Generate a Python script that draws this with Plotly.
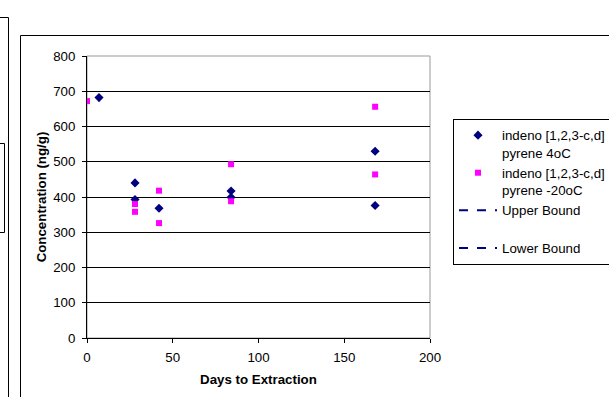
import plotly.graph_objects as go

# ---- data ----
days_4c = [7, 28, 28, 42, 84, 84, 168, 168]
conc_4c = [682, 440, 393, 368, 417, 399, 530, 376]
days_m20c = [0, 28, 28, 42, 42, 84, 84, 168, 168]
conc_m20c = [672, 380, 358, 418, 326, 493, 388, 656, 464]
upper_x, upper_y = [None], [None]
lower_x, lower_y = [None], [None]
x_ticks = [0, 50, 100, 150, 200]
y_ticks = [0, 100, 200, 300, 400, 500, 600, 700, 800]

W, H = 609, 397
L, R, T, B = 87, 430, 56, 338

def px(x):
    return (x - L) / (R - L)

def py(y):
    return (B - y) / (B - T)

FS = 13.3
font = dict(family="Liberation Sans, Arial, sans-serif", size=FS, color="black")

fig = go.Figure()
fig.add_trace(go.Scatter(x=days_4c, y=conc_4c, mode="markers",
                         name="indeno [1,2,3-c,d]<br>pyrene 4oC", legendgroup="a",
                         marker=dict(symbol="diamond", size=7, color="#000080")))
fig.add_trace(go.Scatter(x=days_m20c, y=conc_m20c, mode="markers",
                         name="indeno [1,2,3-c,d]<br>pyrene -20oC", legendgroup="b",
                         marker=dict(symbol="square", size=6, color="#FF00FF")))
fig.add_trace(go.Scatter(x=upper_x, y=upper_y, mode="lines", name="Upper Bound<br> ",
                         legendgroup="c", line=dict(color="#000080", dash="dash", width=2)))
fig.add_trace(go.Scatter(x=lower_x, y=lower_y, mode="lines", name="Lower Bound",
                         legendgroup="d", line=dict(color="#000080", dash="dash", width=2)))

def seg(x0, y0, x1, y1):
    return dict(type="line", xref="paper", yref="paper",
                x0=px(x0), y0=py(y0), x1=px(x1), y1=py(y1),
                line=dict(color="black", width=1))

shapes = []
# plot area border (gray)
shapes.append(dict(type="rect", xref="paper", yref="paper", x0=0, x1=1, y0=0, y1=1,
                   line=dict(color="#999999", width=1), layer="below"))
# white strip along the right edge
shapes.append(dict(type="rect", xref="paper", yref="paper",
                   x0=px(598), x1=px(615), y0=py(400), y1=py(37),
                   line=dict(width=0), fillcolor="white", layer="above"))
# outer chart frame
shapes.append(seg(20.5, 35.5, 20.5, 397))
shapes.append(seg(20.5, 35.5, 609, 35.5))
# neighbouring chart fragments at far left
shapes.append(seg(0, 17.5, 8.5, 17.5))
shapes.append(seg(8.5, 17.5, 8.5, 397))
shapes.append(seg(0, 143.5, 4.5, 143.5))
shapes.append(seg(4.5, 143.5, 4.5, 232.5))
shapes.append(seg(0, 232.5, 4.5, 232.5))

fig.update_layout(
    width=W, height=H,
    margin=dict(l=L, r=W - R, t=T, b=H - B, autoexpand=False),
    paper_bgcolor="white", plot_bgcolor="white",
    font=font,
    showlegend=True,
    shapes=shapes,
    legend=dict(x=px(453), y=py(119), xanchor="left", yanchor="top",
                bordercolor="black", borderwidth=1, bgcolor="white",
                font=font, valign="top", itemwidth=38, entrywidth=160,
                traceorder="grouped", tracegroupgap=0),
    xaxis=dict(range=[0, 200], tickvals=x_ticks, ticks="outside", ticklen=4,
               tickcolor="black", showline=True, linecolor="black", linewidth=1,
               showgrid=False, zeroline=False, fixedrange=True, ticklabelstandoff=3,
               title=dict(text="<b>Days to Extraction</b>", font=font, standoff=10)),
    yaxis=dict(range=[0, 800], tickvals=y_ticks, ticks="outside", ticklen=4,
               tickcolor="black", showline=True, linecolor="black", linewidth=1,
               showgrid=True, gridcolor="black", gridwidth=1, zeroline=False,
               fixedrange=True, ticklabelstandoff=4,
               title=dict(text="<b>Concentration (ng/g)</b>", font=font, standoff=3)),
)

fig.write_html("out.html", config={"displayModeBar": False},
               post_script="document.body.style.margin='0';document.body.style.overflow='hidden';")
